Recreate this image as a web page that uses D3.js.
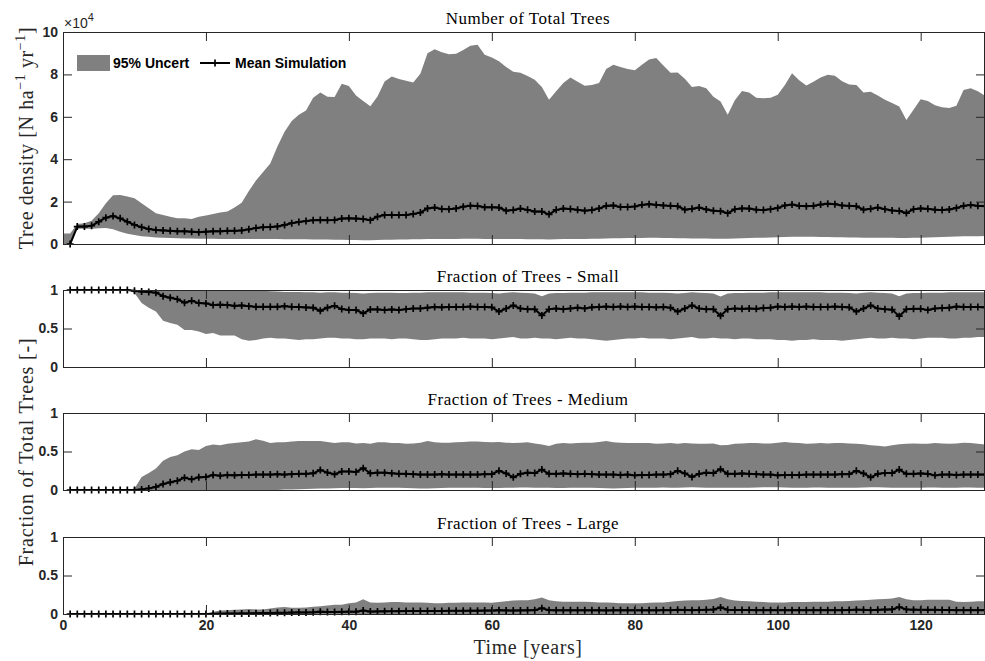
<!DOCTYPE html>
<html>
<head>
<meta charset="utf-8">
<script src="https://cdn.jsdelivr.net/npm/d3@7"></script>
<style>
  body { margin: 0; background: #fff; }
  svg { display: block; }
</style>
</head>
<body>
<div id="chart-container"></div>
<script>
// ---- data ----
// band years run 0..129, mean years 1..129
const bandYears = d3.range(0, 130);
const meanYears = d3.range(1, 130);
const xTicks = [0, 20, 40, 60, 80, 100, 120];
const totalTicks = [0, 2, 4, 6, 8, 10];
const fracTicks = [0, 0.5, 1];
const fracTickLabels = ["0", "0.5", "1"];

// Number of total trees (x 1e4 N/ha/yr)
const totalHigh = [
  0.5, 0.5, 0.94, 0.98, 1.1, 1.45, 1.92, 2.3, 2.31, 2.24,
  2.16, 1.92, 1.69, 1.45, 1.37, 1.29, 1.21, 1.21, 1.18, 1.29,
  1.35, 1.42, 1.48, 1.53, 1.72, 1.95, 2.5, 3.0, 3.4, 3.8,
  4.6, 5.3, 5.8, 6.1, 6.3, 6.9, 7.15, 6.95, 6.93, 7.56,
  7.45, 7.0, 6.75, 6.5, 6.96, 7.67, 7.9, 7.78, 7.7, 7.62,
  8.03, 9.0, 9.19, 9.05, 8.95, 8.97, 9.15, 9.35, 9.4, 8.93,
  8.8, 8.62, 8.35, 8.12, 8.08, 7.92, 7.75, 7.4, 6.8, 7.2,
  7.6, 7.85, 7.65, 7.47, 7.5, 7.6, 8.25, 8.45, 8.35, 8.25,
  8.19, 8.45, 8.7, 8.77, 8.42, 8.08, 8.09, 7.8, 7.4, 7.45,
  7.35, 6.95, 6.72, 6.1, 6.78, 7.22, 7.15, 6.9, 6.87, 6.9,
  7.04, 7.5, 8.06, 7.72, 7.48, 7.65, 7.85, 7.98, 7.94, 7.68,
  7.52, 7.5, 7.15, 7.18, 7.0, 6.8, 6.65, 6.49, 5.85, 6.33,
  6.83, 6.75, 6.55, 6.45, 6.42, 6.52, 7.27, 7.35, 7.2, 6.99
];
const totalLow = [
  0, 0, 0.72, 0.72, 0.72, 0.74, 0.76, 0.7, 0.58, 0.48,
  0.42, 0.37, 0.34, 0.31, 0.29, 0.28, 0.27, 0.26, 0.26, 0.25,
  0.25, 0.25, 0.24, 0.24, 0.24, 0.24, 0.24, 0.23, 0.23, 0.23,
  0.23, 0.22, 0.22, 0.22, 0.22, 0.21, 0.21, 0.21, 0.2, 0.2,
  0.19, 0.19, 0.18, 0.18, 0.19, 0.2, 0.2, 0.21, 0.21, 0.22,
  0.22, 0.23, 0.24, 0.24, 0.24, 0.24, 0.25, 0.25, 0.25, 0.24,
  0.24, 0.24, 0.23, 0.23, 0.23, 0.22, 0.22, 0.22, 0.21, 0.22,
  0.23, 0.24, 0.24, 0.24, 0.25, 0.25, 0.26, 0.27, 0.27, 0.28,
  0.28, 0.28, 0.29, 0.29, 0.28, 0.28, 0.27, 0.27, 0.26, 0.26,
  0.26, 0.25, 0.25, 0.25, 0.26, 0.27, 0.28, 0.29, 0.3, 0.31,
  0.32, 0.33, 0.34, 0.34, 0.34, 0.34, 0.33, 0.33, 0.32, 0.32,
  0.31, 0.31, 0.3, 0.3, 0.29, 0.29, 0.29, 0.28, 0.28, 0.29,
  0.3, 0.31, 0.32, 0.33, 0.34, 0.35, 0.36, 0.37, 0.37, 0.38
];
const totalMean = [
  0, 0.82, 0.82, 0.86, 1.05, 1.24, 1.32, 1.21, 1.05,
  0.9, 0.79, 0.71, 0.66, 0.64, 0.62, 0.6, 0.6, 0.58, 0.56,
  0.58, 0.6, 0.6, 0.62, 0.62, 0.64, 0.69, 0.75, 0.79, 0.8,
  0.83, 0.9, 0.98, 1.04, 1.08, 1.12, 1.13, 1.12, 1.13, 1.2,
  1.21, 1.2, 1.18, 1.12, 1.29, 1.37, 1.37, 1.37, 1.37, 1.42,
  1.48, 1.68, 1.72, 1.65, 1.64, 1.68, 1.76, 1.81, 1.79, 1.73,
  1.73, 1.72, 1.57, 1.6, 1.67, 1.61, 1.53, 1.53, 1.4, 1.61,
  1.67, 1.65, 1.61, 1.57, 1.6, 1.68, 1.8, 1.82, 1.75, 1.74,
  1.77, 1.85, 1.88, 1.85, 1.82, 1.8, 1.78, 1.62, 1.66, 1.72,
  1.63, 1.57, 1.55, 1.45, 1.64, 1.68, 1.67, 1.62, 1.6, 1.64,
  1.7, 1.82, 1.86, 1.8, 1.78, 1.8, 1.86, 1.9, 1.88, 1.82,
  1.8, 1.78, 1.62, 1.66, 1.72, 1.64, 1.58, 1.56, 1.46, 1.64,
  1.68, 1.66, 1.62, 1.6, 1.63, 1.7, 1.8, 1.84, 1.8, 1.78
];

// Fraction small
const smallHigh = [
  1, 1, 1, 1, 1, 1, 1, 1, 1, 1,
  1, 1, 1, 1, 1, 1, 1, 1, 1, 1,
  1, 1, 1, 1, 1, 1, 1, 1, 0.99, 0.985,
  0.98, 0.975, 0.975, 0.975, 0.97, 0.97, 0.965, 0.97, 0.97, 0.965,
  0.965, 0.96, 0.955, 0.96, 0.965, 0.965, 0.965, 0.96, 0.96, 0.965,
  0.965, 0.97, 0.97, 0.97, 0.97, 0.97, 0.97, 0.965, 0.965, 0.965,
  0.96, 0.955, 0.965, 0.97, 0.965, 0.96, 0.955, 0.92, 0.955, 0.96,
  0.96, 0.965, 0.965, 0.965, 0.97, 0.97, 0.97, 0.97, 0.97, 0.97,
  0.97, 0.97, 0.965, 0.965, 0.965, 0.96, 0.955, 0.96, 0.97, 0.965,
  0.96, 0.955, 0.915, 0.955, 0.96, 0.96, 0.965, 0.965, 0.965, 0.97,
  0.97, 0.97, 0.97, 0.97, 0.97, 0.97, 0.97, 0.965, 0.965, 0.965,
  0.96, 0.955, 0.965, 0.97, 0.965, 0.96, 0.955, 0.92, 0.955, 0.96,
  0.96, 0.965, 0.965, 0.965, 0.97, 0.97, 0.97, 0.97, 0.97, 0.97
];
const smallLow = [
  1, 1, 1, 1, 1, 1, 1, 1, 1, 1,
  0.96, 0.83, 0.77, 0.72, 0.6, 0.57, 0.55, 0.48, 0.48, 0.46,
  0.43, 0.44, 0.41, 0.41, 0.41, 0.36, 0.34, 0.35, 0.37, 0.38,
  0.37, 0.37, 0.36, 0.35, 0.36, 0.36, 0.37, 0.38, 0.38, 0.37,
  0.37, 0.36, 0.36, 0.37, 0.37, 0.37, 0.36, 0.37, 0.37, 0.36,
  0.35, 0.35, 0.36, 0.37, 0.37, 0.37, 0.38, 0.37, 0.37, 0.37,
  0.36, 0.37, 0.38, 0.39, 0.37, 0.37, 0.38, 0.37, 0.37, 0.36,
  0.37, 0.38, 0.37, 0.37, 0.36, 0.35, 0.34, 0.35, 0.36, 0.37,
  0.37, 0.38, 0.37, 0.37, 0.37, 0.36, 0.37, 0.38, 0.39, 0.37,
  0.37, 0.38, 0.37, 0.37, 0.36, 0.37, 0.37, 0.36, 0.36, 0.36,
  0.35, 0.35, 0.34, 0.35, 0.35, 0.36, 0.35, 0.35, 0.35, 0.34,
  0.35, 0.36, 0.37, 0.38, 0.37, 0.37, 0.38, 0.37, 0.37, 0.36,
  0.37, 0.38, 0.38, 0.38, 0.37, 0.37, 0.38, 0.38, 0.39, 0.39
];
const smallMean = [
  1, 1, 1, 1, 1, 1, 1, 1, 1,
  0.99, 0.98, 0.975, 0.965, 0.92, 0.9, 0.88, 0.835, 0.86, 0.83,
  0.826, 0.804, 0.81, 0.804, 0.795, 0.8, 0.79, 0.782, 0.782, 0.782,
  0.782, 0.79, 0.782, 0.78, 0.774, 0.77, 0.73, 0.77, 0.795, 0.752,
  0.74, 0.74, 0.696, 0.748, 0.748, 0.74, 0.748, 0.74, 0.75, 0.76,
  0.76, 0.77, 0.78, 0.775, 0.78, 0.78, 0.78, 0.785, 0.78, 0.78,
  0.775, 0.72, 0.76, 0.8, 0.76, 0.75, 0.75, 0.67, 0.75, 0.76,
  0.75, 0.76, 0.77, 0.76, 0.775, 0.78, 0.785, 0.78, 0.785, 0.78,
  0.785, 0.78, 0.78, 0.775, 0.78, 0.77, 0.72, 0.76, 0.8, 0.76,
  0.75, 0.75, 0.665, 0.75, 0.76, 0.755, 0.76, 0.755, 0.765, 0.77,
  0.785, 0.78, 0.785, 0.78, 0.785, 0.78, 0.78, 0.78, 0.785, 0.78,
  0.775, 0.72, 0.76, 0.8, 0.76, 0.75, 0.745, 0.66, 0.75, 0.755,
  0.755, 0.74, 0.76, 0.765, 0.77, 0.785, 0.78, 0.78, 0.78, 0.775
];

// Fraction medium
const mediumHigh = [
  0, 0, 0, 0, 0, 0, 0, 0, 0, 0,
  0.02, 0.17, 0.22, 0.28, 0.38, 0.43, 0.45, 0.5, 0.53, 0.52,
  0.57, 0.59, 0.58, 0.6, 0.61, 0.62, 0.63, 0.66, 0.64, 0.61,
  0.62, 0.62, 0.63, 0.635, 0.635, 0.635, 0.635, 0.625, 0.61, 0.62,
  0.62, 0.605, 0.61, 0.6, 0.62, 0.62, 0.61, 0.61, 0.6, 0.605,
  0.615, 0.635, 0.62, 0.615, 0.615, 0.62, 0.625, 0.63, 0.63, 0.625,
  0.62, 0.625, 0.615, 0.61, 0.615, 0.62, 0.605, 0.59, 0.57, 0.6,
  0.61, 0.605, 0.61, 0.615, 0.615, 0.625, 0.635, 0.62, 0.615, 0.61,
  0.61, 0.61, 0.61, 0.6, 0.605, 0.61, 0.6, 0.61, 0.605, 0.6,
  0.6, 0.605, 0.58, 0.585, 0.6, 0.605, 0.61, 0.61, 0.605, 0.605,
  0.615, 0.625, 0.615, 0.61, 0.6, 0.605, 0.61, 0.605, 0.61, 0.61,
  0.605, 0.6, 0.595, 0.58, 0.575, 0.565, 0.58, 0.595, 0.6, 0.605,
  0.6, 0.6, 0.61, 0.605, 0.6, 0.605, 0.615, 0.61, 0.6, 0.59
];
const mediumLow = [
  0, 0, 0, 0, 0, 0, 0, 0, 0, 0,
  0, 0, 0, 0, 0, 0, 0, 0, 0, 0,
  0, 0, 0, 0, 0, 0, 0, 0, 0, 0,
  0, 0.005, 0.008, 0.01, 0.012, 0.015, 0.02, 0.02, 0.022, 0.025,
  0.025, 0.025, 0.022, 0.025, 0.028, 0.028, 0.03, 0.028, 0.025, 0.022,
  0.02, 0.02, 0.022, 0.025, 0.028, 0.03, 0.03, 0.03, 0.028, 0.025,
  0.025, 0.025, 0.028, 0.03, 0.032, 0.032, 0.03, 0.03, 0.028, 0.025,
  0.025, 0.028, 0.03, 0.03, 0.028, 0.025, 0.022, 0.02, 0.022, 0.025,
  0.028, 0.03, 0.03, 0.03, 0.032, 0.03, 0.03, 0.032, 0.035, 0.032,
  0.03, 0.03, 0.03, 0.028, 0.028, 0.03, 0.03, 0.032, 0.035, 0.035,
  0.035, 0.032, 0.03, 0.03, 0.03, 0.032, 0.032, 0.03, 0.03, 0.028,
  0.028, 0.03, 0.032, 0.035, 0.035, 0.032, 0.03, 0.03, 0.028, 0.028,
  0.03, 0.032, 0.032, 0.03, 0.03, 0.03, 0.032, 0.032, 0.03, 0.03
];
const mediumMean = [
  0, 0, 0, 0, 0, 0, 0, 0, 0,
  0, 0.008, 0.021, 0.04, 0.078, 0.1, 0.12, 0.16, 0.138, 0.165,
  0.17, 0.195, 0.186, 0.195, 0.19, 0.195, 0.195, 0.2, 0.2, 0.2,
  0.205, 0.2, 0.205, 0.21, 0.21, 0.217, 0.26, 0.226, 0.204, 0.24,
  0.24, 0.235, 0.283, 0.217, 0.225, 0.225, 0.217, 0.21, 0.21, 0.205,
  0.2, 0.2, 0.2, 0.205, 0.2, 0.2, 0.2, 0.2, 0.2, 0.205,
  0.205, 0.25, 0.215, 0.165, 0.21, 0.225, 0.22, 0.265, 0.21, 0.21,
  0.215, 0.21, 0.205, 0.21, 0.205, 0.2, 0.2, 0.2, 0.195, 0.2,
  0.19, 0.195, 0.195, 0.2, 0.2, 0.205, 0.25, 0.215, 0.17, 0.21,
  0.225, 0.22, 0.27, 0.21, 0.21, 0.215, 0.21, 0.205, 0.2, 0.2,
  0.19, 0.195, 0.195, 0.195, 0.2, 0.2, 0.2, 0.2, 0.2, 0.205,
  0.205, 0.25, 0.215, 0.165, 0.21, 0.22, 0.22, 0.265, 0.21, 0.21,
  0.215, 0.21, 0.19, 0.2, 0.2, 0.195, 0.2, 0.2, 0.2, 0.2
];

// Fraction large
const largeHigh = [
  0, 0, 0, 0, 0, 0, 0, 0, 0, 0,
  0, 0, 0, 0, 0, 0, 0, 0, 0, 0,
  0, 0.03, 0.045, 0.05, 0.055, 0.06, 0.065, 0.06, 0.06, 0.07,
  0.085, 0.09, 0.08, 0.08, 0.085, 0.095, 0.1, 0.11, 0.12, 0.12,
  0.14, 0.15, 0.19, 0.15, 0.145, 0.15, 0.155, 0.155, 0.15, 0.15,
  0.15, 0.145, 0.14, 0.14, 0.145, 0.145, 0.15, 0.15, 0.15, 0.15,
  0.145, 0.155, 0.165, 0.175, 0.18, 0.18, 0.19, 0.215, 0.18, 0.165,
  0.16, 0.16, 0.16, 0.16, 0.155, 0.15, 0.15, 0.145, 0.14, 0.14,
  0.14, 0.14, 0.145, 0.15, 0.15, 0.16, 0.17, 0.175, 0.18, 0.18,
  0.185, 0.195, 0.22, 0.19, 0.175, 0.17, 0.165, 0.16, 0.155, 0.15,
  0.15, 0.15, 0.155, 0.155, 0.155, 0.16, 0.16, 0.16, 0.165, 0.165,
  0.17, 0.175, 0.18, 0.185, 0.19, 0.195, 0.2, 0.22, 0.19, 0.18,
  0.18, 0.185, 0.185, 0.185, 0.185, 0.16, 0.155, 0.16, 0.165, 0.165
];
const largeLow = [
  0, 0, 0, 0, 0, 0, 0, 0, 0, 0,
  0, 0, 0, 0, 0, 0, 0, 0, 0, 0,
  0, 0, 0, 0, 0, 0, 0, 0, 0, 0,
  0, 0, 0, 0, 0, 0, 0, 0, 0, 0,
  0, 0, 0, 0, 0, 0, 0, 0, 0, 0,
  0, 0, 0, 0, 0, 0, 0, 0, 0, 0,
  0, 0, 0, 0, 0, 0, 0, 0, 0, 0,
  0, 0, 0, 0, 0, 0, 0, 0, 0, 0,
  0, 0, 0, 0, 0, 0, 0, 0, 0, 0,
  0, 0, 0, 0, 0, 0, 0, 0, 0, 0,
  0, 0, 0, 0, 0, 0, 0, 0, 0, 0,
  0, 0, 0, 0, 0, 0, 0, 0, 0, 0,
  0, 0, 0, 0, 0, 0, 0, 0, 0, 0
];
const largeMean = [
  0, 0, 0, 0, 0, 0, 0, 0, 0,
  0, 0, 0, 0, 0, 0, 0, 0, 0, 0,
  0, 0.002, 0.004, 0.005, 0.006, 0.007, 0.008, 0.01, 0.012, 0.014,
  0.015, 0.016, 0.018, 0.02, 0.02, 0.022, 0.03, 0.025, 0.025, 0.028,
  0.03, 0.03, 0.045, 0.032, 0.034, 0.035, 0.036, 0.037, 0.038, 0.038,
  0.04, 0.04, 0.04, 0.04, 0.042, 0.042, 0.042, 0.043, 0.043, 0.044,
  0.044, 0.05, 0.046, 0.044, 0.046, 0.048, 0.05, 0.075, 0.05, 0.048,
  0.048, 0.048, 0.048, 0.048, 0.048, 0.048, 0.047, 0.048, 0.048, 0.048,
  0.048, 0.048, 0.048, 0.048, 0.05, 0.05, 0.055, 0.052, 0.05, 0.052,
  0.055, 0.058, 0.085, 0.055, 0.052, 0.052, 0.052, 0.05, 0.05, 0.05,
  0.05, 0.05, 0.05, 0.05, 0.05, 0.05, 0.05, 0.05, 0.05, 0.05,
  0.052, 0.056, 0.054, 0.05, 0.054, 0.058, 0.06, 0.09, 0.06, 0.056,
  0.055, 0.054, 0.054, 0.052, 0.052, 0.05, 0.05, 0.05, 0.05, 0.05
];

// ---- layout ----
const W = 985, H = 661;
const plotLeft = 63, plotRight = 985;
const axisColor = "#262626";
const bandColor = "#808080";
const tickFont = "'Liberation Sans', Arial, Helvetica, sans-serif";
const serifFont = "'Liberation Serif', 'Times New Roman', serif";
const tickLen = 9;

const svg = d3.select("#chart-container")
  .append("svg")
  .attr("width", W)
  .attr("height", H);

const x = d3.scaleLinear().domain([0, 129]).range([plotLeft, plotRight]);

const panels = [
  { title: "Number of Total Trees", top: 32, bottom: 244, domain: [0, 10],
    ticks: totalTicks, labels: totalTicks.map(String),
    high: totalHigh, low: totalLow, mean: totalMean },
  { title: "Fraction of Trees - Small", top: 290, bottom: 367, domain: [0, 1],
    ticks: fracTicks, labels: fracTickLabels,
    high: smallHigh, low: smallLow, mean: smallMean },
  { title: "Fraction of Trees - Medium", top: 413, bottom: 490, domain: [0, 1],
    ticks: fracTicks, labels: fracTickLabels,
    high: mediumHigh, low: mediumLow, mean: mediumMean },
  { title: "Fraction of Trees - Large", top: 537, bottom: 614, domain: [0, 1],
    ticks: fracTicks, labels: fracTickLabels,
    high: largeHigh, low: largeLow, mean: largeMean }
];

const plusPath = "M-3.5,0H3.5M0,-3.5V3.5";

panels.forEach((p, idx) => {
  const y = d3.scaleLinear().domain(p.domain).range([p.bottom, p.top]);
  const g = svg.append("g");

  // Uncertainty band
  const band = d3.area()
    .x((d, i) => x(bandYears[i]))
    .y0((d, i) => y(p.low[i]))
    .y1(d => y(d));
  g.append("path")
    .datum(p.high)
    .attr("fill", bandColor)
    .attr("stroke", "none")
    .attr("d", band);

  // Mean line
  const line = d3.line()
    .x((d, i) => x(meanYears[i]))
    .y(d => y(d));
  g.append("path")
    .datum(p.mean)
    .attr("fill", "none")
    .attr("stroke", "#000")
    .attr("stroke-width", 2)
    .attr("stroke-linejoin", "round")
    .attr("d", line);

  // '+' markers
  g.selectAll(".mk")
    .data(p.mean)
    .join("path")
    .attr("transform", (d, i) => `translate(${x(meanYears[i])},${y(d)})`)
    .attr("d", plusPath)
    .attr("stroke", "#000")
    .attr("stroke-width", 1.7);

  // Axes (ticks inward on all four sides)
  const isLast = idx === panels.length - 1;
  const bottomAxis = d3.axisBottom(x).tickValues(xTicks).tickSizeInner(-tickLen).tickSizeOuter(0)
    .tickPadding(6).tickFormat(isLast ? d3.format("d") : "");
  const topAxis = d3.axisTop(x).tickValues(xTicks).tickSizeInner(-tickLen).tickSizeOuter(0).tickFormat("");
  const leftAxis = d3.axisLeft(y).tickValues(p.ticks).tickSizeInner(-tickLen).tickSizeOuter(0)
    .tickPadding(5).tickFormat((d, i) => p.labels[i]);
  const rightAxis = d3.axisRight(y).tickValues(p.ticks).tickSizeInner(-tickLen).tickSizeOuter(0).tickFormat("");

  const axes = [
    [bottomAxis, `translate(0,${p.bottom})`],
    [topAxis, `translate(0,${p.top})`],
    [leftAxis, `translate(${plotLeft},0)`],
    [rightAxis, `translate(${plotRight},0)`]
  ];
  axes.forEach(([ax, tr]) => {
    const a = svg.append("g").attr("transform", tr).call(ax);
    a.select(".domain").remove();
    a.selectAll(".tick line").attr("stroke", axisColor).attr("stroke-width", 1);
    a.selectAll(".tick text")
      .attr("fill", axisColor)
      .style("font-family", tickFont)
      .style("font-weight", "bold")
      .style("font-size", "14px");
  });

  // Box
  svg.append("rect")
    .attr("x", plotLeft + 0.5)
    .attr("y", p.top + 0.5)
    .attr("width", plotRight - plotLeft - 1)
    .attr("height", p.bottom - p.top)
    .attr("fill", "none")
    .attr("stroke", axisColor)
    .attr("stroke-width", 1);

  // Title
  svg.append("text")
    .attr("x", (plotLeft + plotRight) / 2 + 4)
    .attr("y", p.top - 8)
    .attr("text-anchor", "middle")
    .style("font-family", serifFont)
    .style("font-size", "17px")
    .style("letter-spacing", "0.5px")
    .attr("fill", "#000")
    .text(p.title);
});

// Exponent label on the top panel
const expo = svg.append("text")
  .attr("x", 64)
  .attr("y", 28)
  .style("font-family", tickFont)
  .style("font-size", "14px")
  .attr("fill", axisColor);
expo.append("tspan").text("\u00d710");
expo.append("tspan").attr("dy", -7).style("font-size", "11px").text("4");

// Y-axis labels
const yLab1 = svg.append("text")
  .attr("transform", "translate(33,138) rotate(-90)")
  .attr("text-anchor", "middle")
  .style("font-family", serifFont)
  .style("font-size", "20px")
  .style("letter-spacing", "0.6px")
  .attr("fill", axisColor);
yLab1.append("tspan").text("Tree density [N ha");
yLab1.append("tspan").attr("dy", -8).style("font-size", "14px").text("\u22121");
yLab1.append("tspan").attr("dy", 8).text(" yr");
yLab1.append("tspan").attr("dy", -8).style("font-size", "14px").text("\u22121");
yLab1.append("tspan").attr("dy", 8).text("]");

svg.append("text")
  .attr("transform", "translate(33,452) rotate(-90)")
  .attr("text-anchor", "middle")
  .style("font-family", serifFont)
  .style("font-size", "20px")
  .style("letter-spacing", "0.8px")
  .attr("fill", axisColor)
  .text("Fraction of Total Trees [-]");

// X-axis label
svg.append("text")
  .attr("x", 528)
  .attr("y", 654)
  .attr("text-anchor", "middle")
  .style("font-family", serifFont)
  .style("font-size", "20px")
  .style("letter-spacing", "0.6px")
  .attr("fill", axisColor)
  .text("Time [years]");

// Legend
const legend = svg.append("g");
legend.append("rect")
  .attr("x", 77).attr("y", 55)
  .attr("width", 33).attr("height", 16)
  .attr("fill", bandColor);
legend.append("text")
  .attr("x", 113).attr("y", 68)
  .style("font-family", tickFont)
  .style("font-weight", "bold")
  .style("font-size", "14px")
  .attr("fill", "#000")
  .text("95% Uncert");
legend.append("line")
  .attr("x1", 200).attr("x2", 230)
  .attr("y1", 63).attr("y2", 63)
  .attr("stroke", "#000").attr("stroke-width", 2);
legend.append("path")
  .attr("transform", "translate(215,63)")
  .attr("d", plusPath)
  .attr("stroke", "#000").attr("stroke-width", 1.7);
legend.append("text")
  .attr("x", 235).attr("y", 68)
  .style("font-family", tickFont)
  .style("font-weight", "bold")
  .style("font-size", "14px")
  .attr("fill", "#000")
  .text("Mean Simulation");
</script>
</body>
</html>
